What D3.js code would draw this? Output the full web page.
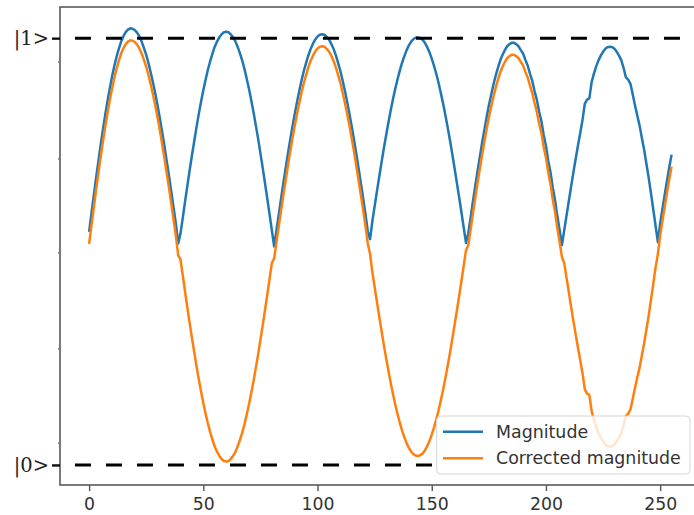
<!DOCTYPE html>
<html lang="en">
<head>
	<meta charset="utf-8">
	<title>Magnitude</title>
	<style type="text/css">
		html, body {
			margin: 0;
			padding: 0;
			background: #fff;
		}
		.xaxis text {
			font-family: "DejaVu Sans", sans-serif;
			font-size: 17.3px;
			fill: #333;
		}
		.yaxis text {
			font-family: "DejaVu Serif", serif;
			font-size: 19.5px;
			fill: #222;
		}
		.legend text {
			font-family: "DejaVu Sans", sans-serif;
			font-size: 17.4px;
			fill: #333;
		}
	</style>
</head>
<body>
<div id="chart"></div>
<script src="https://cdn.jsdelivr.net/npm/d3@7"></script>
<script type="text/javascript">
var magnitude = [
	0.546, 0.588, 0.629, 0.670, 0.709, 0.748, 0.784, 0.819, 0.851, 0.881, 0.909, 0.934, 0.956, 0.975, 0.992, 1.004, 1.014, 1.020, 1.023,
	1.022, 1.019, 1.013, 1.004, 0.992, 0.977, 0.961, 0.941, 0.919, 0.895, 0.869, 0.841, 0.811, 0.779, 0.746, 0.711, 0.676, 0.639, 0.602, 0.564, 0.519,
	0.542, 0.579, 0.617, 0.654, 0.690, 0.725, 0.758, 0.791, 0.822, 0.851, 0.878, 0.903, 0.926, 0.946, 0.964, 0.980, 0.992, 1.002, 1.009, 1.014, 1.015,
	1.014, 1.009, 1.002, 0.993, 0.980, 0.965, 0.948, 0.928, 0.905, 0.881, 0.854, 0.826, 0.795, 0.764, 0.730, 0.696, 0.660, 0.624, 0.587, 0.550, 0.512,
	0.549, 0.586, 0.623, 0.659, 0.694, 0.728, 0.761, 0.792, 0.822, 0.850, 0.876, 0.901, 0.923, 0.942, 0.960, 0.975, 0.987, 0.997, 1.004, 1.008, 1.009,
	1.008, 1.003, 0.997, 0.987, 0.975, 0.960, 0.942, 0.923, 0.900, 0.876, 0.850, 0.822, 0.792, 0.761, 0.728, 0.694, 0.659, 0.624, 0.587, 0.547,
	0.529, 0.571, 0.606, 0.641, 0.675, 0.708, 0.741, 0.772, 0.801, 0.830, 0.856, 0.881, 0.903, 0.924, 0.942, 0.958, 0.972, 0.983, 0.992, 0.998, 1.001, 1.002,
	1.000, 0.996, 0.989, 0.979, 0.967, 0.952, 0.935, 0.916, 0.895, 0.871, 0.846, 0.819, 0.790, 0.760, 0.728, 0.695, 0.661, 0.627, 0.592, 0.556, 0.520,
	0.543, 0.579, 0.616, 0.652, 0.687, 0.720, 0.753, 0.784, 0.814, 0.842, 0.867, 0.891, 0.912, 0.931, 0.948, 0.961, 0.972, 0.981, 0.986, 0.989, 0.989,
	0.986, 0.981, 0.972, 0.964, 0.949, 0.936, 0.917, 0.900, 0.876, 0.856, 0.828, 0.806, 0.773, 0.748, 0.713, 0.686, 0.649, 0.620, 0.582, 0.550, 0.515,
	0.550, 0.584, 0.618, 0.652, 0.685, 0.717, 0.748, 0.777, 0.808, 0.846, 0.856, 0.859, 0.897, 0.917, 0.934, 0.948, 0.959, 0.968, 0.975, 0.979, 0.980,
	0.979, 0.975, 0.968, 0.959, 0.948, 0.930, 0.908, 0.903, 0.893, 0.868, 0.842, 0.818, 0.795, 0.766, 0.738, 0.705, 0.672, 0.636, 0.598, 0.560,
	0.522, 0.566, 0.600, 0.633, 0.666, 0.698, 0.727
];
var corrected = [
	0.518, 0.560, 0.601, 0.642, 0.681, 0.720, 0.756, 0.791, 0.823, 0.853, 0.881, 0.906, 0.928, 0.947, 0.964, 0.976, 0.986, 0.992, 0.995,
	0.994, 0.991, 0.985, 0.976, 0.964, 0.949, 0.933, 0.913, 0.891, 0.867, 0.841, 0.813, 0.783, 0.751, 0.718, 0.683, 0.648, 0.611, 0.574, 0.536, 0.491,
	0.481, 0.444, 0.406, 0.369, 0.333, 0.298, 0.265, 0.232, 0.201, 0.172, 0.145, 0.120, 0.097, 0.077, 0.059, 0.043, 0.031, 0.021, 0.014, 0.009, 0.008,
	0.009, 0.014, 0.021, 0.030, 0.043, 0.058, 0.075, 0.095, 0.118, 0.142, 0.169, 0.197, 0.228, 0.259, 0.293, 0.327, 0.363, 0.399, 0.436, 0.473, 0.484,
	0.521, 0.558, 0.595, 0.631, 0.666, 0.700, 0.733, 0.764, 0.794, 0.822, 0.848, 0.873, 0.895, 0.914, 0.932, 0.947, 0.959, 0.969, 0.976, 0.980, 0.981,
	0.980, 0.975, 0.969, 0.959, 0.947, 0.932, 0.914, 0.895, 0.872, 0.848, 0.822, 0.794, 0.764, 0.733, 0.700, 0.666, 0.631, 0.596, 0.559, 0.519,
	0.494, 0.452, 0.417, 0.382, 0.348, 0.315, 0.282, 0.251, 0.222, 0.193, 0.167, 0.142, 0.120, 0.099, 0.081, 0.065, 0.051, 0.040, 0.031, 0.025, 0.022, 0.021,
	0.023, 0.027, 0.034, 0.044, 0.056, 0.071, 0.088, 0.107, 0.128, 0.152, 0.177, 0.204, 0.233, 0.263, 0.295, 0.328, 0.362, 0.396, 0.431, 0.467, 0.503,
	0.515, 0.551, 0.588, 0.624, 0.659, 0.692, 0.725, 0.756, 0.786, 0.814, 0.839, 0.863, 0.884, 0.903, 0.920, 0.933, 0.944, 0.953, 0.958, 0.961, 0.961,
	0.958, 0.953, 0.944, 0.936, 0.921, 0.908, 0.889, 0.872, 0.848, 0.828, 0.800, 0.778, 0.745, 0.720, 0.685, 0.658, 0.621, 0.592, 0.554, 0.522, 0.487,
	0.473, 0.439, 0.405, 0.371, 0.338, 0.306, 0.275, 0.246, 0.215, 0.177, 0.167, 0.164, 0.126, 0.106, 0.089, 0.075, 0.064, 0.055, 0.048, 0.044, 0.043,
	0.044, 0.048, 0.055, 0.064, 0.075, 0.093, 0.115, 0.120, 0.130, 0.155, 0.181, 0.205, 0.228, 0.257, 0.285, 0.318, 0.351, 0.387, 0.425, 0.463,
	0.494, 0.538, 0.572, 0.605, 0.638, 0.670, 0.699
];
var xTicks = [0, 50, 100, 150, 200, 250];
var stateValues = [0, 1];
var stateLabels = ["|0>", "|1>"];
var minorTicks = [0.051, 0.272, 0.497, 0.717, 0.944];
var seriesNames = ["Magnitude", "Corrected magnitude"];
var seriesColors = ["#1f77b4", "#ff7f0e"];

var width = 694, height = 515;
var frame = {left: 60, top: 7, bottom: 485, right: 700.7};
var legendBox = {x: 436.7, y: 416, w: 253.3, h: 58};

var steps = d3.range(magnitude.length);

var x = d3.scaleLinear()
	.domain([-12.75, 267.75])
	.range([frame.left, frame.right]);
var y = d3.scaleLinear()
	.domain([-0.047, 1.073])
	.range([frame.bottom, frame.top]);

var svg = d3.select("#chart")
	.append("svg")
	.attr("width", width)
	.attr("height", height)
	.style("display", "block");

svg.append("rect")
	.attr("width", width)
	.attr("height", height)
	.attr("fill", "#fff");

var defs = svg.append("defs");
defs.append("clipPath")
	.attr("id", "plotclip")
	.append("rect")
	.attr("x", frame.left)
	.attr("y", frame.top)
	.attr("width", frame.right - frame.left)
	.attr("height", frame.bottom - frame.top);

// dashes are hidden under the legend box
defs.append("clipPath")
	.attr("id", "dashclip")
	.append("path")
	.attr("clip-rule", "evenodd")
	.attr("d",
		"M" + frame.left + "," + frame.top + "H" + frame.right + "V" + frame.bottom + "H" + frame.left + "Z" +
		"M" + legendBox.x + "," + legendBox.y + "h" + legendBox.w + "v" + legendBox.h + "h" + (-legendBox.w) + "Z");

var plot = svg.append("g")
	.attr("clip-path", "url(#plotclip)");

var line = d3.line()
	.x(function (d, i) { return x(steps[i]); })
	.y(function (d) { return y(d); });

var series = [magnitude, corrected];

plot.selectAll(".series")
	.data(series)
	.enter()
	.append("path")
	.attr("class", "series")
	.attr("d", line)
	.attr("fill", "none")
	.attr("stroke", function (d, i) { return seriesColors[i]; })
	.attr("stroke-width", 2.5)
	.attr("stroke-linejoin", "round");

// |0> and |1> reference lines
svg.append("g")
	.attr("clip-path", "url(#dashclip)")
	.selectAll(".state")
	.data(stateValues)
	.enter()
	.append("line")
	.attr("class", "state")
	.attr("x1", x(-6.2))
	.attr("x2", x(267.75))
	.attr("y1", function (d) { return y(d); })
	.attr("y2", function (d) { return y(d); })
	.attr("stroke", "#000")
	.attr("stroke-width", 3)
	.attr("stroke-dasharray", "16,15");

// frame
svg.append("rect")
	.attr("x", frame.left)
	.attr("y", frame.top)
	.attr("width", frame.right - frame.left)
	.attr("height", frame.bottom - frame.top)
	.attr("fill", "none")
	.attr("stroke", "#5a5a5a")
	.attr("stroke-width", 1.6);

var xAxis = svg.append("g")
	.attr("class", "xaxis")
	.attr("transform", "translate(0," + frame.bottom + ")")
	.call(d3.axisBottom(x)
		.tickValues(xTicks)
		.tickSize(6)
		.tickPadding(7)
		.tickSizeOuter(0));
xAxis.select(".domain").remove();
xAxis.selectAll(".tick line")
	.attr("stroke", "#555")
	.attr("stroke-width", 1.4);

var yAxis = svg.append("g")
	.attr("class", "yaxis")
	.attr("transform", "translate(" + frame.left + ",0)")
	.call(d3.axisLeft(y)
		.tickValues(stateValues)
		.tickFormat(function (d, i) { return stateLabels[i]; })
		.tickSize(8)
		.tickPadding(3)
		.tickSizeOuter(0));
yAxis.select(".domain").remove();
yAxis.selectAll(".tick line")
	.attr("stroke", "#111")
	.attr("stroke-width", 2.4);

svg.append("g")
	.selectAll("line")
	.data(minorTicks)
	.enter()
	.append("line")
	.attr("x1", frame.left - 2)
	.attr("x2", frame.left)
	.attr("y1", function (d) { return y(d); })
	.attr("y2", function (d) { return y(d); })
	.attr("stroke", "#777")
	.attr("stroke-width", 1.5);

// legend
var legend = svg.append("g")
	.attr("class", "legend")
	.attr("transform", "translate(" + legendBox.x + "," + legendBox.y + ")");

legend.append("rect")
	.attr("width", legendBox.w)
	.attr("height", legendBox.h)
	.attr("rx", 4)
	.attr("fill", "#fff")
	.attr("fill-opacity", 0.8)
	.attr("stroke", "#d6d6d6")
	.attr("stroke-width", 1);

var item = legend.selectAll(".item")
	.data(seriesNames)
	.enter()
	.append("g")
	.attr("class", "item")
	.attr("transform", function (d, i) { return "translate(0," + (15.7 + i * 26.6) + ")"; });

item.append("line")
	.attr("x1", 6.3)
	.attr("x2", 46.3)
	.attr("stroke", function (d, i) { return seriesColors[i]; })
	.attr("stroke-width", 2.5);

item.append("text")
	.attr("x", 59.3)
	.attr("dy", "0.35em")
	.text(function (d) { return d; });
</script>
</body>
</html>
